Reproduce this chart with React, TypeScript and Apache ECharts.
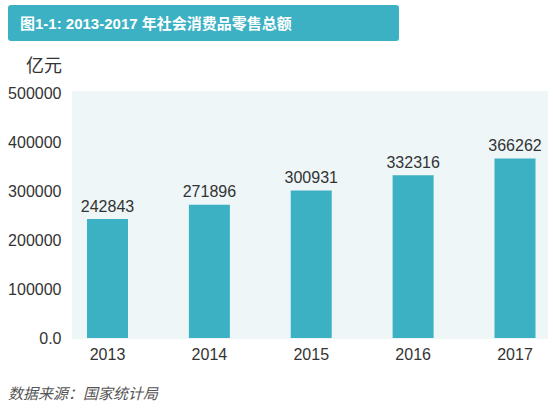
import React, { useEffect, useRef } from "react";
import * as echarts from "echarts";

const years = ["2013", "2014", "2015", "2016", "2017"];
const retailSales = [242843, 271896, 300931, 332316, 366262];
const titleText = "图1-1: 2013-2017 年社会消费品零售总额";
const unitText = "亿元";
const sourceText = "数据来源：国家统计局";

const FONT = "'Liberation Sans', 'Noto Sans CJK SC', sans-serif";
const TEAL = "#3bb1c3";

export default function App() {
  const ref = useRef<HTMLDivElement>(null);
  useEffect(() => {
    document.body.style.margin = "0";
    const chart = echarts.init(ref.current!, null, { renderer: "svg" });
    chart.setOption({
      animation: false,
      textStyle: { fontFamily: FONT },
      graphic: [
        {
          type: "rect",
          shape: { x: 8, y: 5, width: 391, height: 36, r: 3 },
          style: { fill: TEAL },
          z: 0,
        },
        {
          type: "text",
          x: 20,
          y: 23,
          style: {
            text: titleText,
            fill: "#ffffff",
            font: `bold 15px ${FONT}`,
            textVerticalAlign: "middle",
          },
          z: 1,
        },
        {
          type: "rect",
          shape: { x: 72, y: 91, width: 476, height: 248 },
          style: { fill: "#eef6f8" },
          z: -10,
        },
        {
          type: "text",
          x: 62,
          y: 66,
          style: {
            text: unitText,
            fill: "#333333",
            font: `18px ${FONT}`,
            textAlign: "right",
            textVerticalAlign: "middle",
          },
        },
        {
          type: "text",
          x: 8,
          y: 393,
          style: {
            text: sourceText,
            fill: "#555555",
            font: `italic 15px ${FONT}`,
            textVerticalAlign: "middle",
          },
        },
      ],
      grid: { left: 107.5, right: 38, top: 93, bottom: 70, containLabel: false },
      xAxis: {
        type: "category",
        data: years,
        boundaryGap: false,
        axisLine: { show: false },
        axisTick: { show: false },
        axisLabel: { color: "#333333", fontSize: 16, margin: 8, fontFamily: FONT },
        splitLine: { show: false },
      },
      yAxis: {
        type: "value",
        min: 0,
        max: 500000,
        interval: 100000,
        axisLine: { show: false },
        axisTick: { show: false },
        splitLine: { show: false },
        axisLabel: {
          color: "#333333",
          fontSize: 16,
          margin: 46,
          fontFamily: FONT,
          formatter: (v: number) => (v === 0 ? "0.0" : String(v)),
        },
      },
      series: [
        {
          type: "bar",
          data: retailSales,
          barWidth: 41,
          clip: false,
          itemStyle: { color: TEAL },
          label: {
            show: true,
            position: "top",
            distance: 5,
            color: "#333333",
            fontSize: 16,
            fontFamily: FONT,
          },
        },
      ],
    });
    return () => chart.dispose();
  }, []);
  return <div ref={ref} style={{ width: 553, height: 408 }} />;
}
